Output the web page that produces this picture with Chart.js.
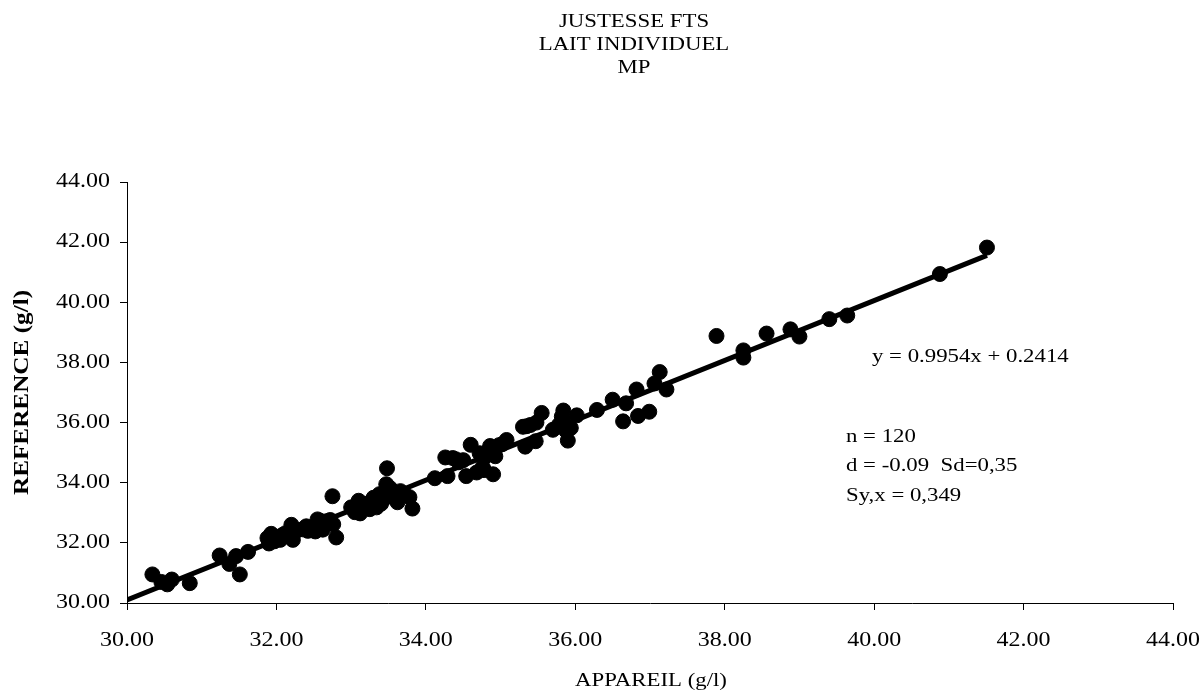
<!DOCTYPE html>
<html>
<head>
<meta charset="utf-8">
<script src="https://cdn.jsdelivr.net/npm/chart.js@4.4.1/dist/chart.umd.min.js"></script>
<style>
  html, body { margin: 0; padding: 0; background: #fff; }
  #wrap { width: 1204px; height: 695px; }
</style>
</head>
<body>
<div id="wrap"><canvas id="chart" width="1204" height="695"></canvas></div>
<script>
// Valeurs : APPAREIL (x) et REFERENCE (y), en g/l
const appareil = [
  30.34, 30.46, 30.54, 30.60, 30.84, 31.24, 31.37, 31.46, 31.51, 31.62,
  31.88, 31.90, 31.93, 31.97, 32.02, 32.08, 32.12, 32.20, 32.22, 32.28,
  32.35, 32.42, 32.48, 32.52, 32.55, 32.58, 32.62, 32.67, 32.72, 32.75,
  32.76, 32.80, 33.00, 33.05, 33.10, 33.14, 33.18, 33.22, 33.28, 33.30,
  33.34, 33.38, 33.40, 33.44, 33.47, 33.48, 33.52, 33.58, 33.62, 33.66,
  33.72, 33.78, 33.82, 34.12, 34.26, 34.29, 34.36, 34.44, 34.50, 34.54,
  34.60, 34.68, 34.72, 34.76, 34.78, 34.82, 34.86, 34.90, 34.93, 34.98,
  35.02, 35.08, 35.30, 35.33, 35.40, 35.47, 35.48, 35.55, 35.70, 35.78,
  35.84, 35.84, 35.88, 35.90, 35.94, 36.02, 36.29, 36.50, 36.64, 36.68,
  36.82, 36.84, 36.99, 37.06, 37.13, 37.22, 37.89, 38.25, 38.25, 38.56,
  38.88, 39.00, 39.40, 39.64, 40.88, 41.51, 32.05, 32.40, 32.60, 33.08,
  33.25, 33.35, 33.55, 34.40, 34.80, 35.35, 35.82, 35.87, 31.94, 33.12
];
const reference = [
  30.95, 30.70, 30.62, 30.78, 30.66, 31.58, 31.30, 31.56, 30.95, 31.70,
  32.16, 31.98, 32.30, 32.05, 32.20, 32.26, 32.32, 32.60, 32.10, 32.42,
  32.45, 32.40, 32.52, 32.38, 32.78, 32.74, 32.44, 32.72, 32.76, 33.55,
  32.62, 32.18, 33.18, 33.02, 33.40, 33.10, 33.30, 33.22, 33.36, 33.50,
  33.18, 33.62, 33.30, 33.46, 33.95, 34.48, 33.82, 33.50, 33.35, 33.72,
  33.60, 33.52, 33.14, 34.15, 34.84, 34.22, 34.82, 34.68, 34.75, 34.22,
  35.26, 34.34, 34.98, 34.52, 34.42, 35.02, 35.22, 34.28, 34.88, 35.25,
  35.28, 35.42, 35.86, 35.20, 35.92, 35.38, 36.00, 36.32, 35.76, 35.92,
  36.40, 36.08, 35.72, 35.40, 35.82, 36.24, 36.42, 36.76, 36.04, 36.64,
  37.10, 36.22, 36.36, 37.30, 37.68, 37.10, 38.88, 38.40, 38.16, 38.96,
  39.10, 38.86, 39.44, 39.56, 40.94, 41.82, 32.10, 32.55, 32.60, 33.20,
  33.12, 33.40, 33.66, 34.78, 34.88, 35.88, 36.20, 35.90, 32.22, 32.98
];

// Droite de régression affichée
const pente = 0.9954;
const ordonnee = 0.2414;

const titre = ['JUSTESSE FTS', 'LAIT INDIVIDUEL', 'MP'];
const titreX = 'APPAREIL (g/l)';
const titreY = 'REFERENCE (g/l)';
const equation = 'y = 0.9954x + 0.2414';
const statistiques = ['n = 120', 'd = -0.09  Sd=0,35', 'Sy,x = 0,349'];

const xMin = 30, xMax = 44, yMin = 30, yMax = 44, pas = 2;

const points = appareil.map((x, i) => ({ x: x, y: reference[i] }));
const xFin = Math.max(...appareil);
const droite = [
  { x: xMin, y: pente * xMin + ordonnee },
  { x: xFin, y: pente * xFin + ordonnee }
];

const police = "'Liberation Serif', 'Times New Roman', serif";
const etirement = 1.2; // le texte de l'original est un peu élargi

const ctx = document.getElementById('chart').getContext('2d');
const fillTextOrig = CanvasRenderingContext2D.prototype.fillText;
ctx.fillText = function (t, x, y, w) {
  this.save();
  this.translate(x, y);
  this.scale(etirement, 1);
  if (w === undefined) fillTextOrig.call(this, t, 0, 0);
  else fillTextOrig.call(this, t, 0, 0, w / etirement);
  this.restore();
};

// Titre, titre de l'axe X, équation et statistiques
const textesPlugin = {
  id: 'textes',
  afterDraw(chart) {
    const c = chart.ctx;
    c.save();
    c.fillStyle = '#000';
    c.textBaseline = 'middle';
    c.textAlign = 'center';
    c.font = '19px ' + police;
    titre.forEach((t, i) => c.fillText(t, 634, 22 + i * 23));
    c.fillText(titreX, 651, 681);
    c.textAlign = 'left';
    c.fillText(equation, 872, 357);
    statistiques.forEach((t, i) => c.fillText(t, 846, 437 + i * 29.5));
    c.restore();
  }
};

const graphique = new Chart(ctx, {
  type: 'scatter',
  data: {
    datasets: [
      {
        type: 'line',
        label: 'Régression',
        data: droite,
        borderColor: '#000',
        borderWidth: 5,
        pointRadius: 0,
        fill: false
      },
      {
        label: 'Mesures',
        data: points,
        backgroundColor: '#000',
        borderColor: '#000',
        pointRadius: 7.5,
        pointHoverRadius: 7.5
      }
    ]
  },
  options: {
    responsive: false,
    animation: false,
    devicePixelRatio: 1,
    layout: { padding: { left: 0, right: 31, top: 182, bottom: 0 } },
    plugins: {
      legend: { display: false },
      tooltip: { enabled: false },
      title: { display: false }
    },
    scales: {
      x: {
        type: 'linear',
        min: xMin,
        max: xMax,
        afterFit(s) { s.height = 92; s.paddingRight = 31; s.paddingLeft = 0; },
        border: { display: true, color: '#000', width: 1 },
        grid: { drawOnChartArea: false, drawTicks: true, tickLength: 7, color: '#000' },
        ticks: {
          stepSize: pas,
          color: '#000',
          padding: 19,
          font: { family: police, size: 20 },
          maxRotation: 0,
          callback: v => v.toFixed(2)
        }
      },
      y: {
        type: 'linear',
        min: yMin,
        max: yMax,
        afterFit(s) { s.width = 127; },
        border: { display: true, color: '#000', width: 1 },
        grid: { drawOnChartArea: false, drawTicks: true, tickLength: 7, color: '#000' },
        ticks: {
          stepSize: pas,
          color: '#000',
          padding: 10,
          font: { family: police, size: 20 },
          callback: v => v.toFixed(2)
        },
        title: {
          display: true,
          text: titreY,
          color: '#000',
          font: { family: police, size: 21, weight: 'bold', lineHeight: 1.2 },
          padding: { top: 10, bottom: 0 }
        }
      }
    }
  },
  plugins: [textesPlugin]
});
</script>
</body>
</html>
